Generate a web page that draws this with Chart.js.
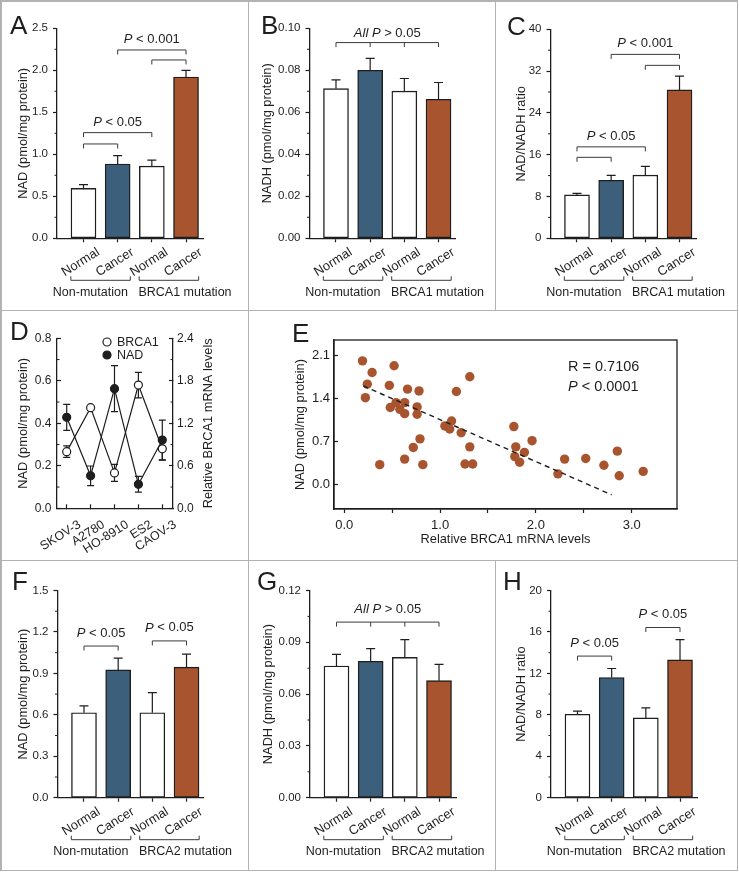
<!DOCTYPE html>
<html>
<head>
<meta charset="utf-8">
<title>NAD and NADH in BRCA mutation carriers</title>
<script src="https://cdn.jsdelivr.net/npm/chart.js@4.4.1/dist/chart.umd.min.js"></script>
<style>
  body { margin: 0; background: #fff; }
  #fig { position: relative; width: 739px; height: 872px; overflow: hidden; }
  #fig canvas { position: absolute; }
  .rule { position: absolute; background: #b2b2b2; }
</style>
</head>
<body>
<div id="fig">
  <div class="rule" style="left:0;top:0;width:738px;height:1.5px"></div>
  <div class="rule" style="left:0;top:869.5px;width:738px;height:1.5px"></div>
  <div class="rule" style="left:0;top:0;width:1.5px;height:871px"></div>
  <div class="rule" style="left:736.5px;top:0;width:1.5px;height:871px"></div>
  <div class="rule" style="left:0;top:309.5px;width:738px;height:1.5px"></div>
  <div class="rule" style="left:0;top:559.5px;width:738px;height:1.5px"></div>
  <div class="rule" style="left:247.5px;top:0;width:1.5px;height:871px"></div>
  <div class="rule" style="left:494.5px;top:0;width:1.5px;height:310px"></div>
  <div class="rule" style="left:494.5px;top:560px;width:1.5px;height:311px"></div>

  <canvas id="panelA" width="248" height="310" style="left:0;top:0"></canvas>
  <canvas id="panelB" width="247" height="310" style="left:248px;top:0"></canvas>
  <canvas id="panelC" width="244" height="310" style="left:495px;top:0"></canvas>
  <canvas id="panelD" width="248" height="250" style="left:0;top:310px"></canvas>
  <canvas id="panelE" width="491" height="250" style="left:248px;top:310px"></canvas>
  <canvas id="panelF" width="248" height="312" style="left:0;top:560px"></canvas>
  <canvas id="panelG" width="247" height="312" style="left:248px;top:560px"></canvas>
  <canvas id="panelH" width="244" height="312" style="left:495px;top:560px"></canvas>
</div>
<script>
const FONT = '"Liberation Sans", Arial, Helvetica, sans-serif';
const INK = '#1e1e1e';
const TITLE_SIZE = 12.8;

// ---- categories ----
const sampleLabels = ['Normal', 'Cancer', 'Normal', 'Cancer'];
const barColors = ['#ffffff', '#3c5f7c', '#ffffff', '#a8552f'];
const brca1Groups = ['Non-mutation', 'BRCA1 mutation'];
const brca2Groups = ['Non-mutation', 'BRCA2 mutation'];
const cellLines = ['SKOV-3', 'A2780', 'HO-8910', 'ES2', 'CAOV-3'];

// ---- BRCA1 cohort (A, B, C) ----
const nadBrca1 = [0.595, 0.885, 0.86, 1.92];
const nadBrca1Err = [0.045, 0.10, 0.07, 0.08];
const nadhBrca1 = [0.0713, 0.0800, 0.0701, 0.0662];
const nadhBrca1Err = [0.0041, 0.0057, 0.0060, 0.0080];
const ratioBrca1 = [8.3, 11.1, 12.1, 28.4];
const ratioBrca1Err = [0.3, 0.95, 1.65, 2.65];

// ---- BRCA2 cohort (F, G, H) ----
const nadBrca2 = [0.615, 0.925, 0.615, 0.945];
const nadBrca2Err = [0.05, 0.085, 0.145, 0.095];
const nadhBrca2 = [0.0763, 0.0790, 0.0813, 0.0678];
const nadhBrca2Err = [0.0067, 0.0073, 0.0102, 0.0094];
const ratioBrca2 = [8.05, 11.6, 7.7, 13.3];
const ratioBrca2Err = [0.3, 0.87, 0.97, 1.96];

// ---- cell lines (D) ----
const brca1Mrna = [0.80, 1.42, 0.50, 1.74, 0.84];
const brca1MrnaErr = [0.08, 0.03, 0.12, 0.18, 0.155];
const nadCells = [0.428, 0.153, 0.563, 0.113, 0.321];
const nadCellsErr = [0.061, 0.046, 0.108, 0.037, 0.094];

// ---- tissue correlation (E) ----
const mrnaLevels = [0.19, 0.29, 0.24, 0.22, 0.52, 0.47, 0.48, 0.66, 0.78, 0.54, 0.63, 0.58, 0.63, 0.76, 0.76,
  1.31, 1.17, 1.05, 1.12, 1.10, 1.22, 1.31, 1.26, 1.34, 0.79, 0.72, 0.63, 0.82, 0.37,
  1.77, 1.96, 1.79, 1.88, 1.78, 1.83, 2.30, 2.23, 2.52, 2.71, 2.85, 2.87, 3.12];
const nadLevels = [2.01, 1.82, 1.63, 1.41, 1.93, 1.61, 1.25, 1.55, 1.52, 1.33, 1.33, 1.22, 1.15, 1.26, 1.14,
  1.75, 1.51, 0.95, 1.03, 0.90, 0.84, 0.61, 0.33, 0.33, 0.74, 0.60, 0.41, 0.32, 0.32,
  0.94, 0.71, 0.61, 0.52, 0.45, 0.36, 0.41, 0.17, 0.42, 0.31, 0.54, 0.14, 0.21];
const fitX = [0.20, 2.79];
const fitY = [1.60, -0.17];

// ---- tick labels ----
const ticksNadA = [0, 0.5, 1.0, 1.5, 2.0, 2.5];
const ticksNadhB = [0, 0.02, 0.04, 0.06, 0.08, 0.10];
const ticksRatioC = [0, 8, 16, 24, 32, 40];
const ticksNadD = [0, 0.2, 0.4, 0.6, 0.8];
const ticksMrnaD = [0, 0.6, 1.2, 1.8, 2.4];
const ticksMrnaE = [0, 0.5, 1, 1.5, 2, 2.5, 3];
const ticksNadE = [0, 0.7, 1.4, 2.1];
const ticksNadF = [0, 0.3, 0.6, 0.9, 1.2, 1.5];
const ticksNadhG = [0, 0.03, 0.06, 0.09, 0.12];
const ticksRatioH = [0, 4, 8, 12, 16, 20];

Chart.defaults.font.family = FONT;
Chart.defaults.color = INK;
Chart.defaults.animation = false;
Chart.defaults.responsive = false;
Chart.defaults.plugins.legend.display = false;
Chart.defaults.plugins.tooltip.enabled = false;

// text with an italic "P" part
function pText(ctx, str, x, y, size, align) {
    const k = str.indexOf('P') + 1;
    const a = str.slice(0, k), b = str.slice(k);
    ctx.font = 'italic ' + size + 'px ' + FONT;
    const wa = ctx.measureText(a).width;
    ctx.font = size + 'px ' + FONT;
    const wb = ctx.measureText(b).width;
    const x0 = align === 'left' ? x : x - (wa + wb) / 2;
    ctx.textAlign = 'left';
    ctx.textBaseline = 'middle';
    ctx.font = 'italic ' + size + 'px ' + FONT;
    ctx.fillText(a, x0, y);
    ctx.font = size + 'px ' + FONT;
    ctx.fillText(b, x0 + wa, y);
}

// letters, error bars, brackets, group labels, minor ticks
function decor(cfg) {
    return {
        id: 'decor' + cfg.letter,
        beforeDatasetsDraw(chart) {
            if (!cfg.errors) return;
            const ctx = chart.ctx;
            ctx.save();
            ctx.strokeStyle = INK;
            ctx.lineWidth = 1.2;
            cfg.errors.forEach(e => {
                const meta = chart.getDatasetMeta(e.ds);
                const ys = chart.scales[meta.yAxisID];
                meta.data.forEach((el, i) => {
                    const val = chart.data.datasets[e.ds].data[i].y;
                    const hi = ys.getPixelForValue(val + e.err[i]);
                    const lo = e.both ? ys.getPixelForValue(val - e.err[i]) : el.y;
                    ctx.beginPath();
                    ctx.moveTo(el.x, lo);
                    ctx.lineTo(el.x, hi);
                    ctx.moveTo(el.x - e.cap, hi);
                    ctx.lineTo(el.x + e.cap, hi);
                    if (e.both) {
                        ctx.moveTo(el.x - e.cap, lo);
                        ctx.lineTo(el.x + e.cap, lo);
                    }
                    ctx.stroke();
                });
            });
            ctx.restore();
        },
        afterDraw(chart) {
            const ctx = chart.ctx, area = chart.chartArea;
            const xs = chart.scales.x, ys = chart.scales.y;
            ctx.save();
            ctx.fillStyle = INK;
            ctx.strokeStyle = INK;

            ctx.font = '26px ' + FONT;
            ctx.textAlign = 'left';
            ctx.textBaseline = 'alphabetic';
            ctx.fillText(cfg.letter, cfg.letterAt[0], cfg.letterAt[1]);

            (cfg.minor || []).forEach(m => {
                const s = chart.scales[m.axis];
                ctx.lineWidth = 1;
                ctx.beginPath();
                for (let k = 1; k * m.step < s.max + 1e-9; k += 2) {
                    const p = s.getPixelForValue(k * m.step);
                    if (s.isHorizontal()) {
                        ctx.moveTo(p, s.top); ctx.lineTo(p, s.top + m.len);
                    } else if (s.position === 'left') {
                        ctx.moveTo(s.right, p); ctx.lineTo(s.right + m.len, p);
                    } else {
                        ctx.moveTo(s.left, p); ctx.lineTo(s.left - m.len, p);
                    }
                }
                ctx.stroke();
            });

            (cfg.brackets || []).forEach(b => {
                const y = ys.getPixelForValue(b.y);
                const x1 = xs.getPixelForValue(b.from), x2 = xs.getPixelForValue(b.to);
                ctx.lineWidth = 1;
                ctx.strokeStyle = '#3a3a3a';
                ctx.beginPath();
                ctx.moveTo(x1, y);
                ctx.lineTo(x2, y);
                (b.drops || [b.from, b.to]).forEach(i => {
                    const px = xs.getPixelForValue(i);
                    ctx.moveTo(px, y);
                    ctx.lineTo(px, y + 4.5);
                });
                ctx.stroke();
                if (b.text) pText(ctx, b.text, (x1 + x2) / 2, y - cfg.textGap, 13, 'center');
            });

            (cfg.groups || []).forEach(g => {
                const yb = area.bottom + 42;
                const x1 = xs.getPixelForValue(g.from - 0.37), x2 = xs.getPixelForValue(g.to + 0.37);
                ctx.lineWidth = 1;
                ctx.strokeStyle = '#3a3a3a';
                ctx.beginPath();
                ctx.moveTo(x1, yb - 4); ctx.lineTo(x1, yb); ctx.lineTo(x2, yb); ctx.lineTo(x2, yb - 4);
                ctx.stroke();
                ctx.font = '12.5px ' + FONT;
                ctx.textAlign = 'center';
                ctx.textBaseline = 'middle';
                ctx.fillText(g.name, xs.getPixelForValue(g.at), area.bottom + 54);
            });

            if (cfg.rightTitle) {
                ctx.save();
                ctx.translate(cfg.rightTitle.x, (area.top + area.bottom) / 2);
                ctx.rotate(-Math.PI / 2);
                ctx.font = TITLE_SIZE + 'px ' + FONT;
                ctx.textAlign = 'center';
                ctx.textBaseline = 'middle';
                ctx.fillText(cfg.rightTitle.text, 0, 0);
                ctx.restore();
            }

            if (cfg.legend) {
                chart.data.datasets.forEach((d, i) => {
                    const cx = area.left + cfg.legend.dx, cy = area.top + cfg.legend.dy + i * 13;
                    ctx.beginPath();
                    ctx.arc(cx, cy, 4, 0, Math.PI * 2);
                    ctx.fillStyle = d.pointBackgroundColor;
                    ctx.fill();
                    ctx.lineWidth = 1.2;
                    ctx.strokeStyle = INK;
                    ctx.stroke();
                    ctx.fillStyle = INK;
                    ctx.font = '12.5px ' + FONT;
                    ctx.textAlign = 'left';
                    ctx.textBaseline = 'middle';
                    ctx.fillText(d.label, cx + 10, cy + 0.5);
                });
            }

            if (cfg.box) {
                ctx.lineWidth = 1.3;
                ctx.strokeStyle = INK;
                ctx.strokeRect(area.left, area.top, area.right - area.left, area.bottom - area.top);
            }

            (cfg.notes || []).forEach(n => {
                const x = area.left + n.dx, y = area.top + n.dy;
                if (n.text.indexOf('P') >= 0) {
                    pText(ctx, n.text, x, y, 14.5, 'left');
                } else {
                    ctx.font = '14.5px ' + FONT;
                    ctx.textAlign = 'left';
                    ctx.textBaseline = 'middle';
                    ctx.fillText(n.text, x, y);
                }
            });
            ctx.restore();
        }
    };
}

function axisBorder() {
    return { color: INK, width: 1.3 };
}

function barPanel(id, o) {
    const canvas = document.getElementById(id);
    const W = canvas.width, H = canvas.height;
    const padL = o.titleX - TITLE_SIZE * 0.6;
    const plotWidth = 146;
    new Chart(canvas, {
        type: 'bar',
        data: {
            datasets: [{
                data: o.values.map((v, i) => ({ x: i, y: v })),
                backgroundColor: barColors,
                borderColor: INK,
                borderWidth: 1.4,
                borderSkipped: false,
                barThickness: 25
            }]
        },
        options: {
            layout: { padding: { left: padL, right: W - (o.left + plotWidth), top: o.top, bottom: 0 } },
            scales: {
                x: {
                    type: 'linear',
                    offset: false,
                    min: -0.775,
                    max: 3.497,
                    afterBuildTicks: s => { s.ticks = sampleLabels.map((_, i) => ({ value: i })); },
                    afterFit: s => { s.height = H - o.bottom; },
                    border: axisBorder(),
                    grid: { offset: false, drawOnChartArea: false, tickLength: 4, tickWidth: 1.2, tickColor: INK },
                    ticks: {
                        autoSkip: false, minRotation: 32, maxRotation: 32,
                        labelOffset: 15, padding: 2.3, font: { size: 13 },
                        callback: v => sampleLabels[v]
                    }
                },
                y: {
                    min: 0,
                    max: o.ticks[o.ticks.length - 1],
                    afterBuildTicks: s => { s.ticks = o.ticks.map(v => ({ value: v })); },
                    afterFit: s => { s.width = o.left - padL; },
                    border: axisBorder(),
                    grid: { drawOnChartArea: false, tickLength: 4, tickWidth: 1.2, tickColor: INK },
                    ticks: { padding: 5, font: { size: 11.5 }, callback: v => v.toFixed(o.dec) },
                    title: { display: true, text: o.title, font: { size: TITLE_SIZE }, padding: 0 }
                }
            }
        },
        plugins: [decor({
            letter: o.letter,
            letterAt: o.letterAt,
            errors: [{ ds: 0, err: o.errors, cap: 4.5 }],
            minor: [{ axis: 'y', step: o.minorStep, len: -2.5 }],
            brackets: o.brackets,
            textGap: o.textGap,
            groups: [
                { name: o.groupNames[0], from: 0, to: 1, at: 0.2 },
                { name: o.groupNames[1], from: 2, to: 3, at: 2.97 }
            ]
        })]
    });
}

barPanel('panelA', {
    letter: 'A', letterAt: [10, 33.5], values: nadBrca1, errors: nadBrca1Err,
    ticks: ticksNadA, dec: 1, minorStep: 0.25, title: 'NAD (pmol/mg protein)', titleX: 23,
    left: 57, top: 28.3, bottom: 238.3, textGap: 10.5, groupNames: brca1Groups,
    brackets: [
        { from: 0, to: 1, y: 1.123 },
        { from: 0, to: 2, y: 1.258, text: 'P < 0.05' },
        { from: 2, to: 3, y: 2.123 },
        { from: 1, to: 3, y: 2.242, text: 'P < 0.001' }
    ]
});

barPanel('panelB', {
    letter: 'B', letterAt: [13, 33.5], values: nadhBrca1, errors: nadhBrca1Err,
    ticks: ticksNadhB, dec: 2, minorStep: 0.01, title: 'NADH (pmol/mg protein)', titleX: 19.7,
    left: 61.5, top: 28.3, bottom: 238.3, textGap: 9.5, groupNames: brca1Groups,
    brackets: [{ from: 0, to: 3, y: 0.0932, drops: [0, 1, 2, 3], text: 'All P > 0.05' }]
});

barPanel('panelC', {
    letter: 'C', letterAt: [12, 35], values: ratioBrca1, errors: ratioBrca1Err,
    ticks: ticksRatioC, dec: 0, minorStep: 4, title: 'NAD/NADH ratio', titleX: 26.7,
    left: 55.5, top: 29.3, bottom: 238.3, textGap: 10.5, groupNames: brca1Groups,
    brackets: [
        { from: 0, to: 1, y: 15.5 },
        { from: 0, to: 2, y: 17.5, text: 'P < 0.05' },
        { from: 2, to: 3, y: 33.1 },
        { from: 1, to: 3, y: 35.2, text: 'P < 0.001' }
    ]
});

barPanel('panelF', {
    letter: 'F', letterAt: [12, 30], values: nadBrca2, errors: nadBrca2Err,
    ticks: ticksNadF, dec: 1, minorStep: 0.15, title: 'NAD (pmol/mg protein)', titleX: 23.3,
    left: 57.5, top: 30.5, bottom: 237.7, textGap: 13, groupNames: brca2Groups,
    brackets: [
        { from: 0, to: 1, y: 1.098, text: 'P < 0.05' },
        { from: 2, to: 3, y: 1.135, text: 'P < 0.05' }
    ]
});

barPanel('panelG', {
    letter: 'G', letterAt: [9, 30], values: nadhBrca2, errors: nadhBrca2Err,
    ticks: ticksNadhG, dec: 2, minorStep: 0.015, title: 'NADH (pmol/mg protein)', titleX: 20.3,
    left: 62, top: 30.5, bottom: 237.7, textGap: 13, groupNames: brca2Groups,
    brackets: [{ from: 0, to: 3, y: 0.1017, drops: [0, 1, 2, 3], text: 'All P > 0.05' }]
});

barPanel('panelH', {
    letter: 'H', letterAt: [8, 30], values: ratioBrca2, errors: ratioBrca2Err,
    ticks: ticksRatioH, dec: 0, minorStep: 2, title: 'NAD/NADH ratio', titleX: 26.7,
    left: 56, top: 30.5, bottom: 237.7, textGap: 13, groupNames: brca2Groups,
    brackets: [
        { from: 0, to: 1, y: 13.67, text: 'P < 0.05' },
        { from: 2, to: 3, y: 16.43, text: 'P < 0.05' }
    ]
});

// ---- D: cell lines, two y axes ----
new Chart(document.getElementById('panelD'), {
    type: 'line',
    data: {
        datasets: [{
            label: 'BRCA1',
            yAxisID: 'y2',
            data: brca1Mrna.map((v, i) => ({ x: i, y: v })),
            borderColor: INK, borderWidth: 1.2, tension: 0,
            pointRadius: 4, pointBackgroundColor: '#ffffff', pointBorderColor: INK, pointBorderWidth: 1.2,
            order: 2
        }, {
            label: 'NAD',
            yAxisID: 'y',
            data: nadCells.map((v, i) => ({ x: i, y: v })),
            borderColor: INK, borderWidth: 1.2, tension: 0,
            pointRadius: 4, pointBackgroundColor: INK, pointBorderColor: INK, pointBorderWidth: 1.2,
            order: 1
        }]
    },
    options: {
        layout: { padding: { left: 23 - TITLE_SIZE * 0.6, right: 35, top: 28.3, bottom: 0 } },
        scales: {
            x: {
                type: 'linear', offset: false, min: -0.406, max: 4.448,
                afterBuildTicks: s => { s.ticks = cellLines.map((_, i) => ({ value: i })); },
                afterFit: s => { s.height = 250 - 198.3; },
                border: axisBorder(),
                grid: { drawOnChartArea: false, tickLength: -4, tickWidth: 1.2, tickColor: INK },
                ticks: {
                    autoSkip: false, minRotation: 32, maxRotation: 32,
                    labelOffset: 13, padding: 13, font: { size: 12.5 },
                    callback: v => cellLines[v]
                }
            },
            y: {
                position: 'left', min: 0, max: 0.8,
                afterBuildTicks: s => { s.ticks = ticksNadD.map(v => ({ value: v })); },
                afterFit: s => { s.width = 57 - (23 - TITLE_SIZE * 0.6); },
                border: axisBorder(),
                grid: { drawOnChartArea: false, tickLength: -4, tickWidth: 1.2, tickColor: INK },
                ticks: { padding: 9.5, font: { size: 12 }, callback: v => v.toFixed(1) },
                title: { display: true, text: 'NAD (pmol/mg protein)', font: { size: TITLE_SIZE }, padding: 0 }
            },
            y2: {
                position: 'right', min: 0, max: 2.4,
                afterBuildTicks: s => { s.ticks = ticksMrnaD.map(v => ({ value: v })); },
                afterFit: s => { s.width = 248 - 35 - 173; },
                border: axisBorder(),
                grid: { drawOnChartArea: false, tickLength: -4, tickWidth: 1.2, tickColor: INK },
                ticks: { padding: 8, font: { size: 12 }, callback: v => v.toFixed(1) }
            }
        }
    },
    plugins: [decor({
        letter: 'D',
        letterAt: [10, 30],
        errors: [
            { ds: 0, err: brca1MrnaErr, cap: 3.5, both: true },
            { ds: 1, err: nadCellsErr, cap: 3.5, both: true }
        ],
        minor: [{ axis: 'y', step: 0.1, len: 2.5 }, { axis: 'y2', step: 0.3, len: 2.5 }],
        legend: { dx: 50, dy: 3.7 },
        rightTitle: { x: 208, text: 'Relative BRCA1 mRNA levels' }
    })]
});

// ---- E: scatter with fitted line ----
new Chart(document.getElementById('panelE'), {
    type: 'scatter',
    data: {
        datasets: [{
            data: mrnaLevels.map((x, i) => ({ x: x, y: nadLevels[i] })),
            pointRadius: 4.7, pointBackgroundColor: '#a8552f', pointBorderWidth: 0,
            order: 2
        }, {
            type: 'line',
            data: fitX.map((x, i) => ({ x: x, y: fitY[i] })),
            borderColor: INK, borderWidth: 1.4, borderDash: [5, 4], pointRadius: 0, fill: false,
            order: 1
        }]
    },
    options: {
        layout: { padding: { left: 52.3 - TITLE_SIZE * 0.6, right: 491 - 429, top: 30, bottom: 13.2 } },
        scales: {
            x: {
                type: 'linear', min: -0.1075, max: 3.473,
                afterBuildTicks: s => { s.ticks = ticksMrnaE.map(v => ({ value: v })); },
                afterFit: s => { s.height = 250 - 13.2 - 199; },
                border: axisBorder(),
                grid: { drawOnChartArea: false, tickLength: 4, tickWidth: 1.2, tickColor: INK },
                ticks: { padding: 4.8, font: { size: 13 }, callback: v => Number.isInteger(v) ? v.toFixed(1) : '' },
                title: { display: true, text: 'Relative BRCA1 mRNA levels', font: { size: TITLE_SIZE }, padding: 0 }
            },
            y: {
                min: -0.402, max: 2.349,
                afterBuildTicks: s => { s.ticks = ticksNadE.map(v => ({ value: v })); },
                afterFit: s => { s.width = 86 - (52.3 - TITLE_SIZE * 0.6); },
                border: axisBorder(),
                grid: { drawOnChartArea: false, tickLength: -4, tickWidth: 1.2, tickColor: INK },
                ticks: { padding: 8, font: { size: 13 }, callback: v => v.toFixed(1) },
                title: { display: true, text: 'NAD (pmol/mg protein)', font: { size: TITLE_SIZE }, padding: 0 }
            }
        }
    },
    plugins: [decor({
        letter: 'E',
        letterAt: [44, 31.7],
        box: true,
        notes: [
            { text: 'R = 0.7106', dx: 234, dy: 27.3 },
            { text: 'P < 0.0001', dx: 234, dy: 47.3 }
        ]
    })]
});
</script>
</body>
</html>
